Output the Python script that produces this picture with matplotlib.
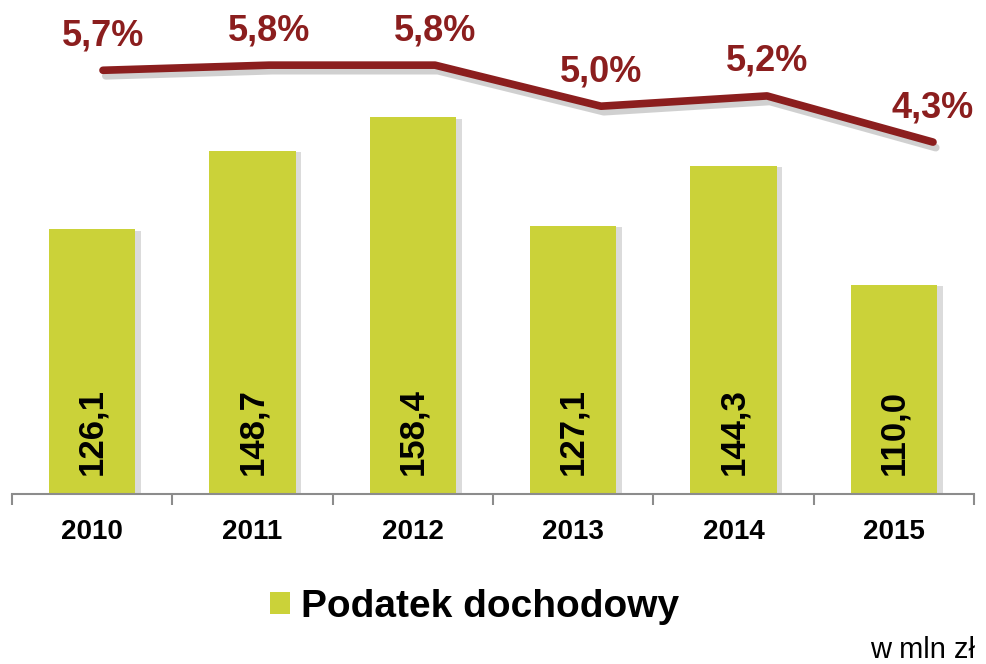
import matplotlib
matplotlib.use("Agg")
import matplotlib.pyplot as plt
import matplotlib.patheffects as pe
from matplotlib.patches import Patch

plt.rcParams['font.family'] = ['Liberation Sans', 'DejaVu Sans']

years = ['2010', '2011', '2012', '2013', '2014', '2015']
tax_values = [126.1, 148.7, 158.4, 127.1, 144.3, 110.0]
share_values = [5.7, 5.8, 5.8, 5.0, 5.2, 4.3]
legend_label = 'Podatek dochodowy'
unit_label = 'w mln zł'

bar_color = '#CBD239'
line_color = '#8B1E1E'

W, H = 986, 664
fig = plt.figure(figsize=(W / 100, H / 100), dpi=100)

# bar axes
ax = fig.add_axes([12 / W, (H - 494) / H, 962 / W, 494 / H])
x = list(range(len(years)))
bars = ax.bar(x, tax_values, width=0.54, color=bar_color, zorder=2)
for b in bars:
    b.set_path_effects([pe.SimplePatchShadow(offset=(4, -1), shadow_rgbFace='#888888', alpha=0.3),
                        pe.Normal()])
ax.set_xlim(-0.5, len(years) - 0.5)
ax.set_ylim(49.7, 192.2)
for xi, v in zip(x, tax_values):
    ax.text(xi, 55.2, f"{v:.1f}".replace('.', ','), rotation=90, ha='center', va='bottom',
            fontsize=25, fontweight='bold', color='black', zorder=3)
for s in ['top', 'right', 'left']:
    ax.spines[s].set_visible(False)
ax.spines['bottom'].set_color('#8c8c8c')
ax.spines['bottom'].set_linewidth(1.5)
ax.set_yticks([])
ax.set_xticks(x)
ax.set_xticklabels(years, fontsize=20, fontweight='bold')
ax.tick_params(axis='x', which='major', length=0, pad=18)
ax.set_xticks([i - 0.5 for i in range(len(years) + 1)], minor=True)
ax.tick_params(axis='x', which='minor', length=8, width=1.5, color='#8c8c8c', direction='out')
ax.patch.set_alpha(0)

# line axes
ax2 = fig.add_axes([103 / W, (H - 494) / H, (933 - 103) / W, 494 / H])
ax2.set_xlim(0, len(years) - 1)
ax2.set_ylim(-2.56, 7.07)
ax2.axis('off')
ax2.plot(x, share_values, color=line_color, lw=5.5, solid_capstyle='round', solid_joinstyle='round',
         path_effects=[pe.SimpleLineShadow(offset=(2, -4), shadow_color='#666666', alpha=0.3),
                       pe.Normal()], clip_on=False)
for xi, v in zip(x, share_values):
    ax2.annotate(f"{v:.1f}%".replace('.', ','), (xi, v), xytext=(0, 18), textcoords='offset points',
                 ha='center', va='baseline', fontsize=26, fontweight='bold', color=line_color,
                 annotation_clip=False)

# legend
handle = Patch(facecolor=bar_color, edgecolor='none')
fig.legend([handle], [legend_label], loc='center', bbox_to_anchor=(475 / W, 1 - 607 / H),
           frameon=False, prop={'size': 28, 'weight': 'bold'}, handlelength=0.5, handleheight=0.5,
           handletextpad=0.3, borderpad=0, borderaxespad=0)

fig.text(870 / W, 1 - 658 / H, unit_label, fontsize=21, ha='left', va='baseline', color='black')

fig.savefig('out.png', dpi=100)
